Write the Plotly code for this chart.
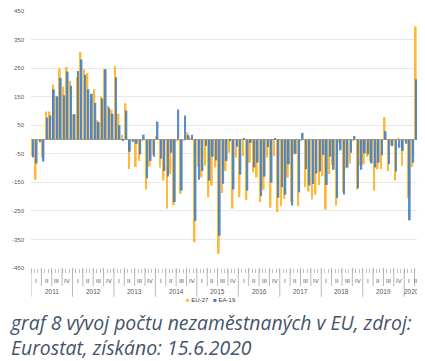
import math
import plotly.graph_objects as go

# ---------------- data (month-on-month change of unemployed persons, thousands) ----------------
years = ["2011", "2012", "2013", "2014", "2015", "2016", "2017", "2018", "2019", "2020"]
months_per_year = [12, 12, 12, 12, 12, 12, 12, 12, 12, 4]
quarter_labels = ["I", "II", "III", "IV"]
series_names = ["EU-27", "EA-19"]

eu27 = [
    -58, -141, -3, -63, 98, 98, 193, 153, 249, 185, 254, 205,          # 2011
    87, 219, 306, 246, 233, 142, 176, 67, 150, 246, 118, 104,          # 2012
    257, 90, 17, 127, -103, -2, -96, -75, -2, -175, -95, -54,          # 2013
    12, -98, -144, -242, -121, -230, -6, -190, -3, 25, 5, -360,        # 2014
    -95, -133, -92, -202, -161, -98, -400, -187, -110, -46, -242, -63, # 2015
    -202, -58, -211, -81, -115, -133, -219, -176, -63, -239, -58, -254,# 2016
    -233, -208, -133, -219, -52, -233, -5, -167, -182, -210, -193, -159,# 2017
    -129, -245, -121, -89, -231, -12, -185, -101, -84, -6, -175, -92,  # 2018
    -87, -61, -77, -179, -104, -104, 78, -110, -21, -144, 6, -92,      # 2019
    -3, -205, -96, 396,                                                # 2020
]
ea19 = [
    -63, -84, -10, -77, 77, 84, 175, 151, 216, 155, 238, 188,          # 2011
    89, 240, 280, 227, 176, 160, 128, 61, 144, 246, 112, 90,           # 2012
    218, 50, -3, 101, -43, -8, -15, -52, 17, -136, -75, -60,           # 2013
    63, -67, -110, -130, -46, -219, 105, -179, 84, 15, 17, -285,       # 2014
    -141, -110, -23, -144, -60, -73, -337, -155, -75, -6, -175, -25,   # 2015
    -123, 3, -179, -12, -98, -81, -198, -130, -27, -151, 3, -204,      # 2016
    -167, -193, -87, -231, -50, -185, 23, -104, -161, -156, -119, -112,# 2017
    -54, -159, -60, -106, -205, -38, -193, -98, -46, 12, -171, -106,   # 2018
    -48, -52, -84, -98, -81, -55, 29, -87, -23, -112, -29, -40,        # 2019
    -15, -283, -81, 211,                                               # 2020
]
y_ticks = [450, 350, 250, 150, 50, -50, -150, -250, -350, -450]

caption = "<i>graf 8 vývoj počtu nezaměstnaných v EU, zdroj:<br>Eurostat, získáno: 15.6.2020</i>"

# ---------------- figure ----------------
ORANGE = "#FFB838"
BLUE = "#3D7CC4"
x = list(range(len(eu27)))

fig = go.Figure()
fig.add_trace(go.Bar(x=x, y=eu27, name=series_names[0], marker_color=ORANGE,
                     marker_line_width=0, offset=-0.42, width=0.52))
fig.add_trace(go.Bar(x=x, y=ea19, name=series_names[1], marker_color=BLUE,
                     marker_line_width=0, offset=-0.14, width=0.52, opacity=0.85))

annotations = []
shapes = []
axis_font = dict(family="Liberation Sans, Arial, sans-serif", size=6, color="#595959")
start = 0
for yi, (yr, m) in enumerate(zip(years, months_per_year)):
    nq = math.ceil(m / 3)
    for q in range(nq):
        qs = start + 3 * q
        qe = min(qs + 3, start + m) - 1
        annotations.append(dict(x=(qs + qe) / 2, y=-0.05, xref="x", yref="paper",
                                text=quarter_labels[q], showarrow=False, font=axis_font,
                                yanchor="middle"))
        if q > 0:
            shapes.append(dict(type="line", xref="x", yref="paper", x0=qs - 0.5, x1=qs - 0.5,
                               y0=0, y1=-0.07, line=dict(color="#A6A6A6", width=0.8)))
    annotations.append(dict(x=start + (m - 1) / 2, y=-0.09, xref="x", yref="paper",
                            text=yr, showarrow=False,
                            font=dict(family="Liberation Sans, Arial, sans-serif", size=6.5, color="#595959"),
                            yanchor="middle"))
    shapes.append(dict(type="line", xref="x", yref="paper", x0=start - 0.5, x1=start - 0.5,
                       y0=0, y1=-0.112, line=dict(color="#A6A6A6", width=0.8)))
    start += m
shapes.append(dict(type="line", xref="x", yref="paper", x0=start - 0.5, x1=start - 0.5,
                   y0=0, y1=-0.112, line=dict(color="#A6A6A6", width=0.8)))

# legend (small square keys as in the original)
legend_text = (f"<span style='color:{ORANGE}'>■</span> {series_names[0]}   "
               f"<span style='color:{BLUE}'>■</span> {series_names[1]}")
annotations.append(dict(x=0.465, y=-0.125, xref="paper", yref="paper", text=legend_text,
                        showarrow=False, xanchor="center", yanchor="middle",
                        font=dict(family="Liberation Sans, Arial, sans-serif", size=6, color="#404040")))

annotations.append(dict(x=-0.059, y=-0.153, xref="paper", yref="paper", text=caption,
                        showarrow=False, align="left", xanchor="left", yanchor="top",
                        font=dict(family="Open Sans, sans-serif", size=19.4, color="#44546A")))

# page body has an 8px margin, so the figure is drawn 8px smaller and margins compensate
fig.update_layout(
    width=417, height=353,
    margin=dict(l=23, r=7, t=0, b=93),
    paper_bgcolor="white", plot_bgcolor="white",
    barmode="overlay",
    showlegend=False,
    annotations=annotations,
    shapes=shapes,
)
fig.update_xaxes(range=[-0.5, len(eu27) - 0.5], showticklabels=False, showgrid=False,
                 ticks="outside", tickmode="linear", tick0=-0.5, dtick=1, ticklen=4,
                 tickcolor="#BFBFBF", tickwidth=0.6, showline=False, zeroline=False)
fig.update_yaxes(range=[-450, 450], tickmode="array", tickvals=y_ticks,
                 ticktext=[str(v) for v in y_ticks], showgrid=True, gridcolor="#E8E8E8",
                 gridwidth=1, zeroline=True, zerolinecolor="#9A9A9A", zerolinewidth=1,
                 tickfont=axis_font, ticks="", ticklabelstandoff=6, showline=False,
                 ticklabeloverflow="allow")

fig.write_html("out.html")
